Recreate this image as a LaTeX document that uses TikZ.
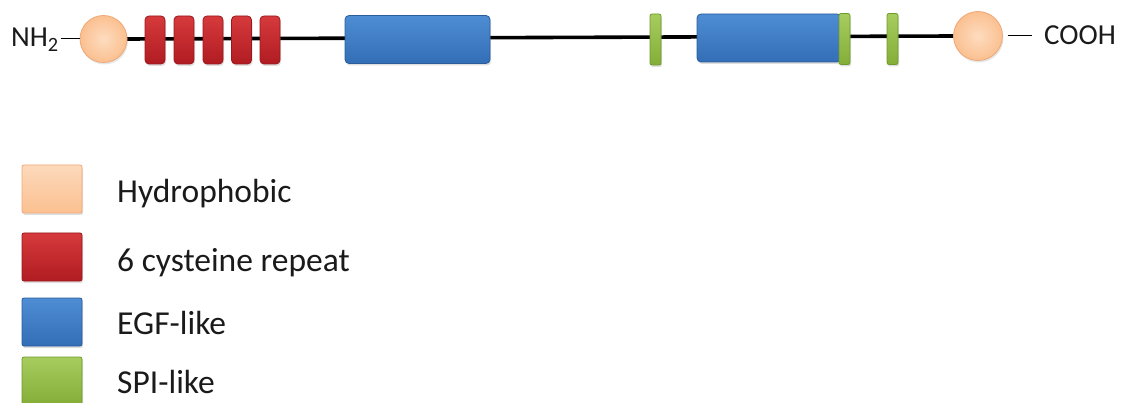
\documentclass[tikz,border=0pt]{standalone}
\usepackage{fontspec}
\setmainfont{Carlito}
\usetikzlibrary{shadows,backgrounds}
\definecolor{peachT}{HTML}{FDDCC0}
\definecolor{peachB}{HTML}{FBC090}
\definecolor{peachD}{HTML}{EFA878}
\definecolor{redT}{HTML}{D63A3C}
\definecolor{redB}{HTML}{B01C22}
\definecolor{redD}{HTML}{9A171C}
\definecolor{blueT}{HTML}{4E8DD3}
\definecolor{blueB}{HTML}{336EB6}
\definecolor{blueD}{HTML}{2B5D9B}
\definecolor{greenT}{HTML}{A6CC5E}
\definecolor{greenB}{HTML}{84AE38}
\definecolor{greenD}{HTML}{6F9A2C}
\definecolor{txt}{HTML}{1A1A1A}
\tikzset{
  x=1pt, y=-1pt,
  dom/.style={draw, line width=0.8pt, inner sep=0pt, outer sep=0pt, rounded corners=4pt,
    drop shadow={shadow xshift=1pt, shadow yshift=-2pt, opacity=0.25}},
  hydro/.style={circle, draw=peachD, line width=0.8pt, inner sep=0pt, outer sep=0pt,
    inner color=peachT, outer color=peachB, minimum size=#1,
    drop shadow={shadow xshift=1pt, shadow yshift=-2pt, opacity=0.2}},
  cys/.style={dom, draw=redD, top color=redT, bottom color=redB, minimum width=20pt, minimum height=48pt},
  egf/.style={dom, draw=blueD, top color=blueT, bottom color=blueB, minimum width=145pt, minimum height=48pt},
  spi/.style={dom, rounded corners=2pt, draw=greenD, top color=greenT, bottom color=greenB, minimum width=11pt, minimum height=51pt},
  legbox/.style={dom, rounded corners=2pt, minimum width=60pt, minimum height=48pt},
  lbl/.style={anchor=base west, inner sep=0pt, text=txt, font=\fontsize{33.5}{38}\selectfont},
  endlbl/.style={inner sep=0pt, text=txt, font=\fontsize{29}{33}\selectfont},
  backbone/.style={line width=3.6pt, black},
  thin/.style={line width=1pt, black}
}
\begin{document}
\begin{tikzpicture}
\useasboundingbox (0,0) rectangle (1126,403);
% termini
\node[endlbl, anchor=base west] (nh2) at (11,47) {NH\textsubscript{2}};
\node[hydro=47pt] (c1) at (103.5,39) {};
\node[hydro=49pt] (c2) at (978,36) {};
\node[endlbl, anchor=base west] (cooh) at (1044,45) {COOH};
% domains
\node[cys] (r1) at (155,40) {};
\node[cys] (r2) at (184,40) {};
\node[cys] (r3) at (213,40) {};
\node[cys] (r4) at (241.5,40) {};
\node[cys] (r5) at (270,40) {};
\node[egf] (e1) at (417.5,39.5) {};
\node[spi] (s1) at (655.5,39.5) {};
\node[egf, minimum width=144pt] (e2) at (769,38) {};
\node[spi] (s2) at (844.5,39) {};
\node[spi] (s3) at (892.5,39) {};
\begin{scope}[on background layer]
  \draw[backbone] (c1.east) -- (c2.west);
\end{scope}
\draw[thin] ([xshift=2pt]nh2.east |- c1.west) -- (c1.west);
\coordinate (k0) at ([xshift=-12pt]cooh.west |- c2.east);
\draw[thin] ([xshift=5pt]c2.east) -- (k0);
% legend
\node[legbox, draw=peachD, top color=peachT!90!peachB, bottom color=peachB] (lh) at (52,189) {};
\node[legbox, draw=redD, top color=redT, bottom color=redB] (lr) at (52,257) {};
\node[legbox, draw=blueD, top color=blueT, bottom color=blueB] (lb) at (52,322) {};
\node[legbox, draw=greenD, top color=greenT, bottom color=greenB] (lg) at (52,381) {};
\node[lbl] (th) at (117,203) {Hydrophobic};
\node[lbl] (tr) at (117,271) {6 cysteine repeat};
\node[lbl] (tb) at (117,334) {EGF-like};
\node[lbl] (tg) at (117,393) {SPI-like};
\end{tikzpicture}
\end{document}
